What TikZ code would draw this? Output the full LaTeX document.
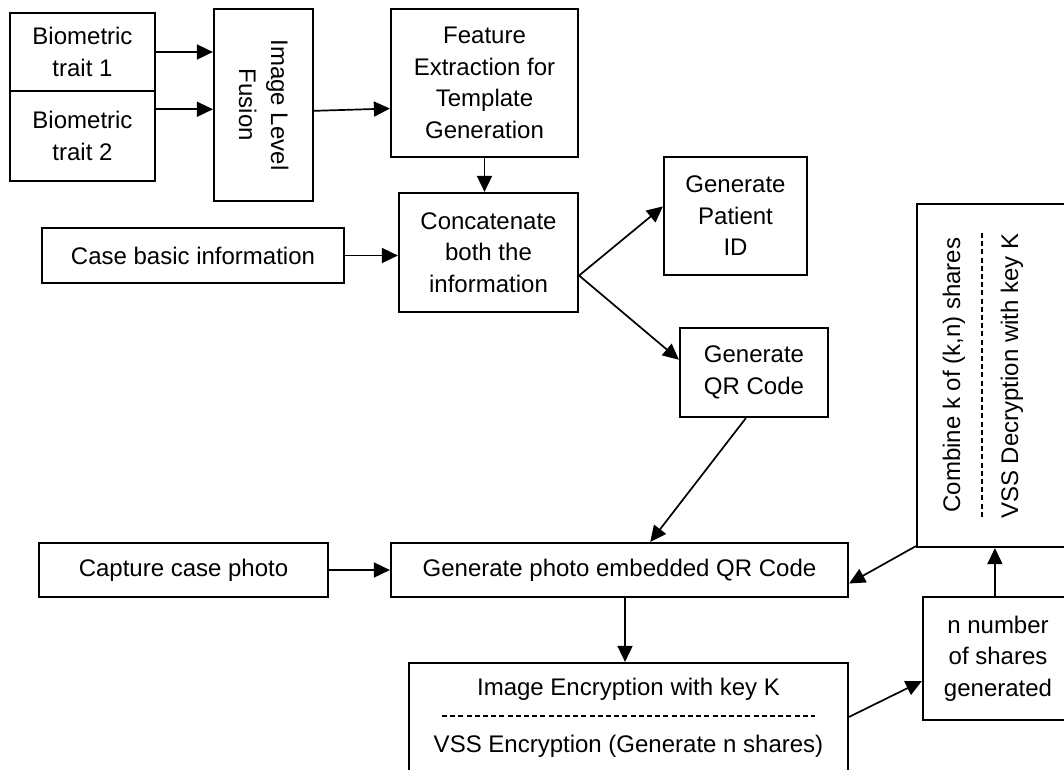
\documentclass[tikz,border=0pt]{standalone}
\usepackage{fontspec}
\setmainfont{Liberation Sans}
\usetikzlibrary{arrows.meta,calc}
\begin{document}
\begin{tikzpicture}[x=1pt,y=-1pt,
 box/.style={draw,line width=2.2pt,inner sep=0pt,align=center,font=\fontsize{24}{31.5}\selectfont},
 txt/.style={inner sep=0pt,font=\fontsize{24}{31.5}\selectfont},
 arr/.style={line width=1.7pt,-{Triangle[length=16pt,width=15pt]}},
 sep/.style={line width=1.3pt,dash pattern=on 5pt off 3.2pt}]
\useasboundingbox (0,0) rectangle (1064,769);
\fill[white] (0,0) rectangle (1064,769);
\clip (0,0) rectangle (1064,769);
% boxes
\node[box,minimum width=145pt,minimum height=78pt] (t1) at (82.5,52) {Biometric\\trait 1};
\node[box,minimum width=145pt,minimum height=90pt] (t2) at (82.5,136) {Biometric\\trait 2};
\node[box,minimum width=99pt,minimum height=192pt] (fus) at (263.5,105) {};
\node[txt,rotate=-90,anchor=base] (fusA) at (271,105) {Image Level};
\node[txt,rotate=-90,anchor=base] (fusB) at (239,105) {Fusion};
\node[box,minimum width=187pt,minimum height=148pt] (feat) at (484.5,83) {Feature\\Extraction for\\Template\\Generation};
\node[box,minimum width=179pt,minimum height=119pt] (conc) at (488.5,252.5) {Concatenate\\both the\\information};
\node[box,minimum width=302pt,minimum height=55pt] (case) at (193,255.5) {Case basic information};
\node[box,minimum width=143pt,minimum height=118pt] (pid) at (735.5,216) {Generate\\Patient\\ID};
\node[box,minimum width=148pt,minimum height=89pt] (qr) at (754,372.5) {Generate\\QR Code};
\node[box,minimum width=173pt,minimum height=343pt] (comb) at (1003.5,375.5) {};
\node[txt,rotate=90,anchor=base] (combA) at (960,375) {Combine k of (k,n) shares};
\node[txt,rotate=90,anchor=base] (combB) at (1018,376) {VSS Decryption with key K};
\coordinate (cd1) at (982,233);
\coordinate (cd2) at (982,518);
\draw[sep] (cd1) -- (cd2);
\node[box,minimum width=289pt,minimum height=54pt] (cap) at (183.5,570) {Capture case photo};
\node[box,minimum width=457pt,minimum height=54pt] (gen) at (619.5,570) {Generate photo embedded QR Code};
\node[box,minimum width=439pt,minimum height=137pt] (enc) at (628.5,731.5) {};
\node[txt,anchor=base] (encA) at (628.5,695) {Image Encryption with key K};
\node[txt,anchor=base] (encB) at (628.5,752) {VSS Encryption (Generate n shares)};
\coordinate (ed1) at (442,716);
\coordinate (ed2) at (815,716);
\draw[sep] (ed1) -- (ed2);
\node[box,minimum width=150pt,minimum height=123pt] (nsh) at (998,658.5) {n number\\of shares\\generated};
% connectors
\draw[arr] (t1.east) -- (t1.east -| fus.west);
\coordinate (t2o) at ($(t2.north east)!0.21!(t2.south east)$);
\draw[arr] (t2o) -- (t2o -| fus.west);
\draw[arr] ($(fus.north east)!0.53!(fus.south east)$) -- ($(feat.north west)!0.67!(feat.south west)$);
\draw[arr] (feat.south) -- (feat.south |- conc.north);
\draw[arr] (case.east) -- (case.east -| conc.west);
\coordinate (cj) at ($(conc.north east)!0.69!(conc.south east)$);
\draw[arr] (cj) -- ($(pid.north west)!0.42!(pid.south west)$);
\draw[arr] (cj) -- ($(qr.north west)!0.36!(qr.south west)$);
\draw[arr] ($(qr.south west)!0.446!(qr.south east)$) -- ($(gen.north west)!0.567!(gen.north east)$);
\draw[arr] (cap.east) -- (cap.east -| gen.west);
\coordinate (go) at ($(gen.south west)!0.512!(gen.south east)$);
\draw[arr] (go) -- (go |- enc.north);
\draw[arr] ($(enc.north east)+(0,55)$) -- ($(nsh.north west)!0.68!(nsh.south west)$);
\coordinate (no) at ($(nsh.north west)+(73,0)$);
\draw[arr] (no) -- (no |- comb.south);
\draw[arr] ($(comb.south west)+(0,-2)$) -- ($(gen.north east)!0.74!(gen.south east)$);
\end{tikzpicture}
\end{document}
